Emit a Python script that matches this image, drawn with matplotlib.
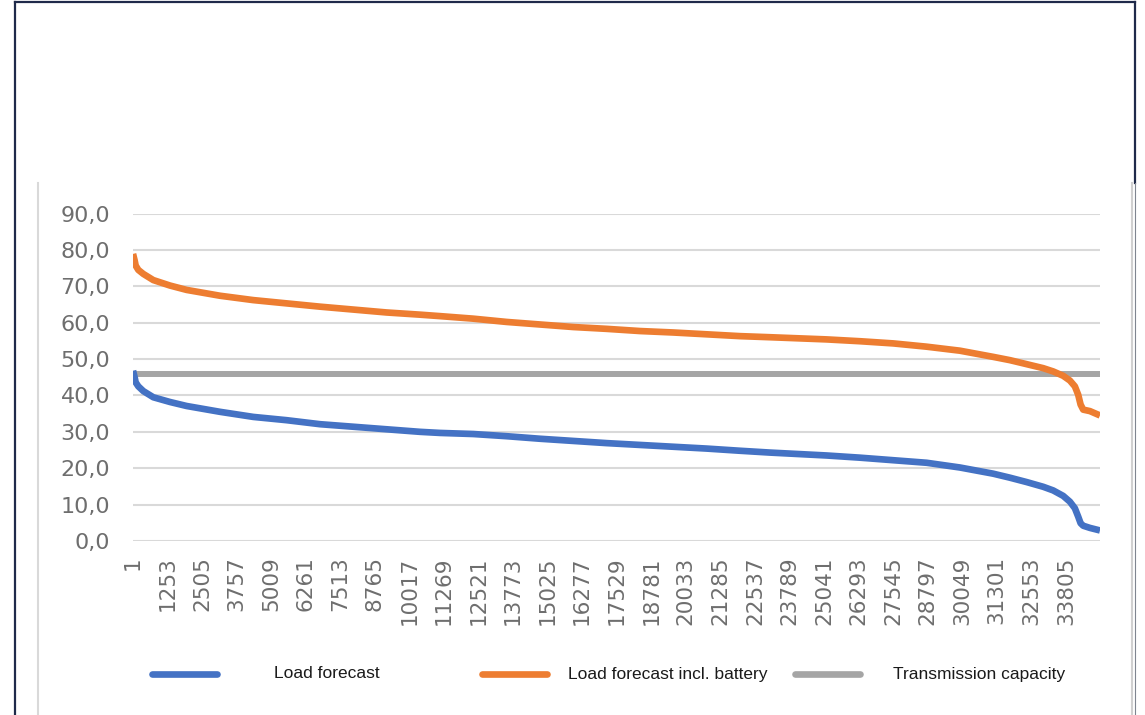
import matplotlib.pyplot as plt
from matplotlib.lines import Line2D

# Duration curves, sorted quarter-hour values for one year (35040 steps)
n_steps = 35040
idx = [1, 60, 97, 193, 374, 737, 1341, 1944, 3152, 4360, 5568, 6775, 7983,
       9191, 10399, 11123,
       12330, 13539, 14746, 15953, 17163, 18370, 19578, 20786, 21993, 23080,
       25134, 26341, 27548, 28757, 29964, 31170, 31775, 32380, 32982, 33344,
       33706, 33949, 34130, 34250, 34337, 34431, 34674, 35040]

load = [46.8, 45.0, 43.6, 42.5, 41.2, 39.5, 38.2, 37.1, 35.5, 34.1, 33.2, 32.1, 31.4,
        30.7, 30.0, 29.7,
        29.4, 28.8, 28.1, 27.5, 26.9, 26.4, 25.9, 25.4, 24.8, 24.3,
        23.5, 22.9, 22.2, 21.5, 20.2, 18.5, 17.4, 16.2, 14.9, 13.9,
        12.4, 10.8, 9.0, 6.7, 4.9, 4.2, 3.6, 2.9]

load_battery = [78.9, 77.1, 75.7, 74.5, 73.4, 71.7, 70.2, 69.0, 67.4, 66.2, 65.3, 64.4, 63.6,
                62.8, 62.2, 61.8,
                61.1, 60.2, 59.5, 58.8, 58.3, 57.7, 57.3, 56.8, 56.3, 56.0,
                55.4, 54.9, 54.3, 53.4, 52.3, 50.6, 49.7, 48.6, 47.5, 46.6,
                45.4, 44.1, 42.5, 40.2, 37.5, 36.1, 35.7, 34.5]

capacity_idx = [1, n_steps]
capacity = [46.0, 46.0]

y_ticks = [0, 10, 20, 30, 40, 50, 60, 70, 80, 90]
x_ticks = list(range(1, n_steps, 1252))

blue = '#4472C4'
orange = '#ED7D31'
grey = '#A5A5A5'
label_grey = '#6E6E6E'

fig = plt.figure(figsize=(11.45, 7.15), dpi=100)
ax = fig.add_axes([133 / 1145, 1 - 541 / 715, 967 / 1145, (541 - 213.5) / 715])

ax.plot(idx, load, color=blue, lw=4.8, solid_capstyle='butt', solid_joinstyle='round', zorder=3)
ax.plot(idx, load_battery, color=orange, lw=4.8, solid_capstyle='butt', solid_joinstyle='round', zorder=3)
ax.plot(capacity_idx, capacity, color=grey, lw=4.3, solid_capstyle='butt', zorder=2)

ax.set_xlim(0.5, n_steps + 0.5)
ax.set_ylim(0, 90)
ax.set_yticks(y_ticks)
ax.set_yticklabels([f'{v:.1f}'.replace('.', ',') for v in y_ticks])
ax.set_xticks(x_ticks)
ax.set_xticklabels([str(t) for t in x_ticks], rotation=90)
ax.tick_params(axis='y', length=0, pad=16.5, labelsize=16, labelcolor=label_grey)
ax.tick_params(axis='x', length=0, pad=11, labelsize=15.5, labelcolor=label_grey)
ax.grid(axis='y', color='#D9D9D9', lw=1.5)
ax.set_axisbelow(True)
for s in ax.spines.values():
    s.set_visible(False)

# Legend row below the axis labels
fig_w, fig_h = 1145, 715
entries = [(blue, 152, 217, 274, 'Load forecast'),
           (orange, 482, 547, 568, 'Load forecast incl. battery'),
           (grey, 795, 860, 893, 'Transmission capacity')]
ly = 1 - 674 / fig_h
for col, x0, x1, tx, txt in entries:
    fig.add_artist(Line2D([x0 / fig_w, x1 / fig_w], [ly, ly], color=col, lw=4.8,
                          solid_capstyle='round', transform=fig.transFigure))
    fig.text(tx / fig_w, ly, txt, fontsize=12.5, family='Liberation Sans',
             color='#1a1a1a', va='center', ha='left')

# Frame around the chart
navy = '#1F2A4A'
fig.add_artist(Line2D([15 / fig_w, 15 / fig_w], [0, 1 - 2 / fig_h], color=navy, lw=1.6))
fig.add_artist(Line2D([15 / fig_w, 1135 / fig_w], [1 - 2 / fig_h, 1 - 2 / fig_h], color=navy, lw=1.6))
fig.add_artist(Line2D([1135 / fig_w, 1135 / fig_w], [1 - 2 / fig_h, 1 - 183 / fig_h], color=navy, lw=1.6))
fig.add_artist(Line2D([1135 / fig_w, 1135 / fig_w], [0, 1 - 183 / fig_h], color='#7F8590', lw=0.8))
fig.add_artist(Line2D([1132 / fig_w, 1132 / fig_w], [0, 1 - 183 / fig_h], color='#D0D0D0', lw=1.5))
fig.add_artist(Line2D([38 / fig_w, 38 / fig_w], [0, 1 - 183 / fig_h], color='#D9D9D9', lw=1.5))

fig.savefig('out.png', dpi=100)
